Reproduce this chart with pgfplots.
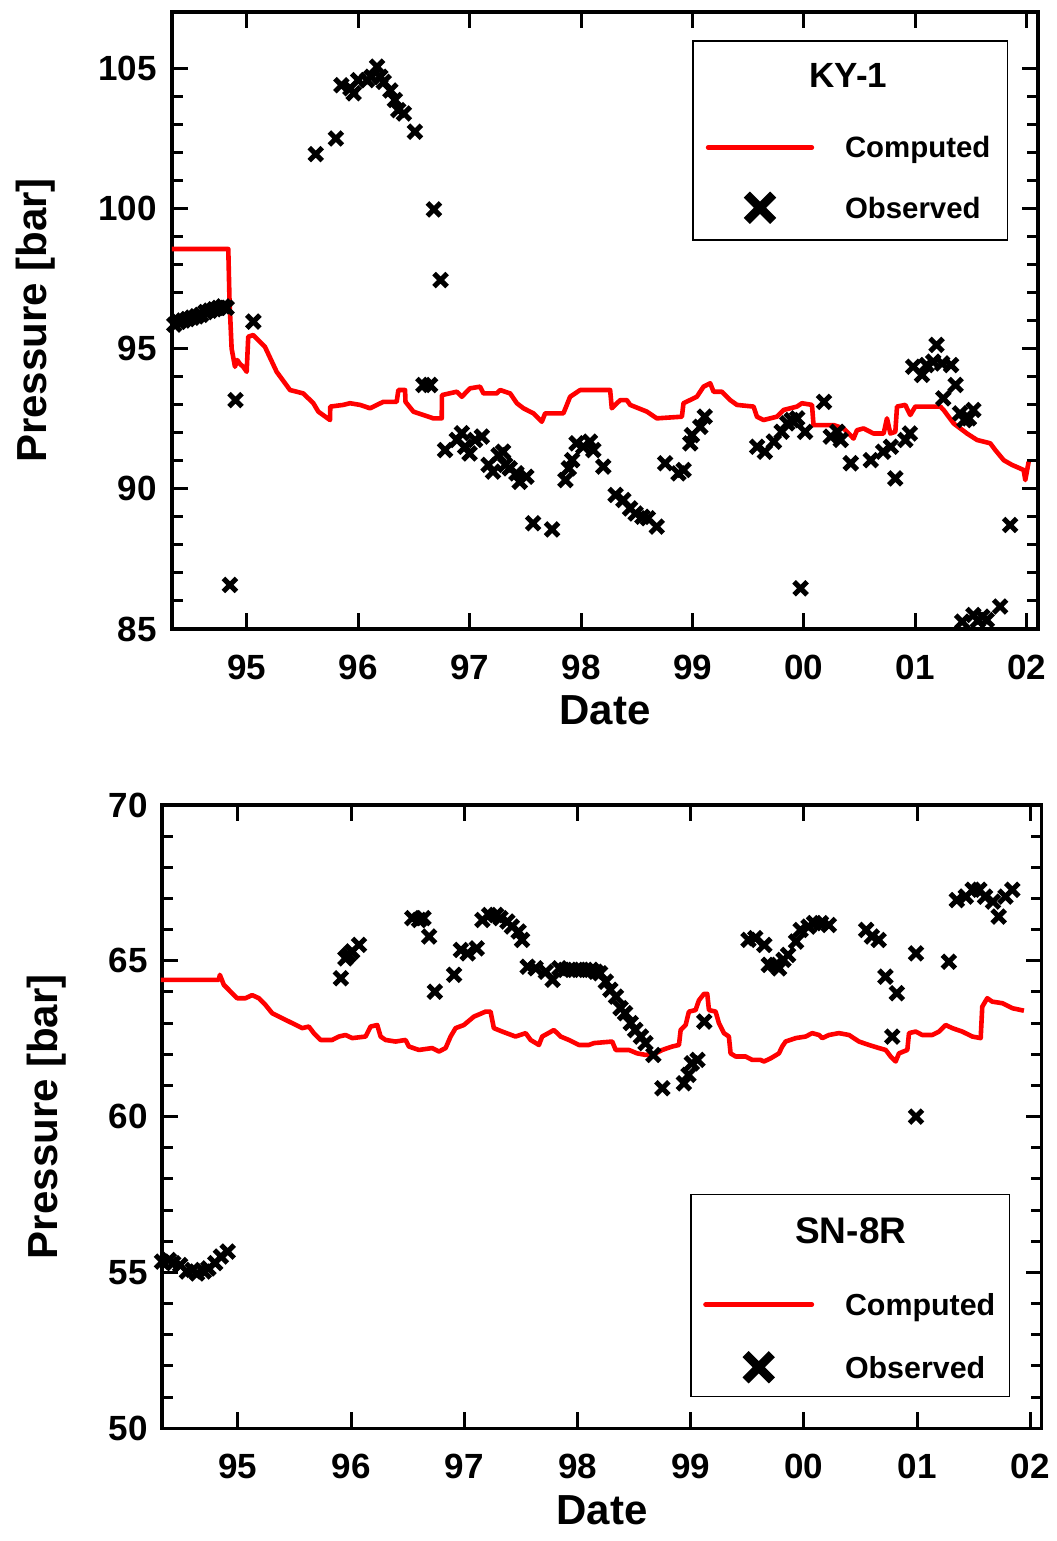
\documentclass[border=0pt]{standalone}
\usepackage{fontspec}
\setmainfont{Liberation Sans}
\usepackage{pgfplots}
\pgfplotsset{compat=1.18}
\pgfplotsset{
  legline/.style={legend image code/.code={\draw[##1] (0pt,0pt) -- (#1,0pt);}},
  legmark/.style={legend image code/.code={\draw[##1] plot coordinates {(#1,0pt)};}},
  myaxis/.style={
    scale only axis, anchor=south west, clip=false,
    xmin=94.33, xmax=102.10,
    xtick={95,96,97,98,99,100,101,102},
    xticklabels={95,96,97,98,99,00,01,02},
    minor y tick num=4,
    tick align=inside,
    major tick length=8pt, minor tick length=5.5pt,
    every tick/.style={black, line width=1.5pt},
    axis line style={line width=1.7pt},
    /pgf/number format/assume math mode=true,
    ticklabel style={font=\fontsize{17.5}{20}\selectfont\bfseries, inner sep=0pt},
    yticklabel style={anchor=east},
    label style={font=\fontsize{21}{24}\selectfont\bfseries},
    xlabel={Date}, ylabel={Pressure [bar]},
    legend cell align=left,
    comp/.style={red, line width=2.3pt, line join=round},
    obs/.style={black, only marks, mark=x, mark size=4.6pt, mark options={line width=2.5pt}},
  }
}
\begin{document}
\begin{tikzpicture}
\path[use as bounding box] (0pt,0pt) rectangle (528pt,770.5pt);
% ---------------- top panel: KY-1
\begin{axis}[myaxis,
  at={(86pt,456pt)}, width=433pt, height=308.5pt,
  ymin=85, ymax=107, ytick={85,90,95,100,105},
  xticklabel style={anchor=base, yshift=-25.5pt},
  yticklabel style={xshift=-7.5pt},
  xlabel style={at={(axis description cs:0.5,-0.131)}, anchor=center},
  ylabel style={at={(axis description cs:-0.158,0.5)}, anchor=center},
  legend style={at={(axis description cs:0.6164,0.7974)}, anchor=north west,
    draw=none, fill=none, inner sep=0pt, outer sep=0pt,
    row sep=18.3pt, column sep=15.4pt,
    font=\fontsize{14.7}{17}\selectfont\bfseries,
    nodes={inner sep=0pt, text depth=0pt, text height=10.5pt}},
]
\addplot[comp, forget plot] coordinates {
(94.329,98.55) (94.835,98.55) (94.846,96.7) (94.865,95.0) (94.895,94.35) (94.916,94.59)
(94.94,94.45) (94.969,94.35) (95.000,94.17) (95.014,95.42) (95.059,95.48) (95.164,95.06)
(95.269,94.17) (95.389,93.52) (95.508,93.40) (95.598,93.05) (95.643,92.75) (95.748,92.45)
(95.750,92.93) (95.867,92.99) (95.927,93.05) (96.017,92.99) (96.107,92.87) (96.226,93.10)
(96.346,93.10) (96.361,93.52) (96.421,93.52) (96.425,93.10) (96.496,92.75) (96.585,92.63)
(96.675,92.51) (96.750,92.51) (96.752,93.34) (96.885,93.46) (96.930,93.28) (97.004,93.58)
(97.094,93.64) (97.124,93.40) (97.244,93.40) (97.274,93.52) (97.364,93.40) (97.424,93.05)
(97.483,92.87) (97.573,92.69) (97.648,92.39) (97.678,92.69) (97.842,92.69) (97.902,93.28)
(97.992,93.52) (98.082,93.52) (98.261,93.52) (98.276,92.87) (98.351,93.16) (98.411,93.16)
(98.441,92.99) (98.591,92.75) (98.680,92.51) (98.905,92.57) (98.919,93.05) (99.039,93.28)
(99.099,93.64) (99.159,93.76) (99.189,93.46) (99.264,93.46) (99.339,93.16) (99.399,92.99)
(99.548,92.93) (99.578,92.57) (99.637,92.45) (99.758,92.57) (99.817,92.81) (99.937,92.93)
(99.982,93.05) (100.072,92.99) (100.086,92.27) (100.266,92.27) (100.356,92.15) (100.445,91.79)
(100.476,92.09) (100.535,92.15) (100.625,91.97) (100.715,91.97) (100.745,92.51) (100.775,91.97)
(100.820,92.03) (100.835,92.93) (100.909,92.99) (100.954,92.63) (100.999,92.93) (101.224,92.93)
(101.253,92.81) (101.343,92.33) (101.463,91.97) (101.553,91.74) (101.672,91.62) (101.717,91.38)
(101.792,91.02) (101.867,90.85) (101.971,90.67) (101.986,90.31) (102.016,90.96)
};
\addplot[obs, forget plot] coordinates {
(94.35,95.85) (94.39,95.95) (94.43,96.0) (94.47,96.05) (94.51,96.1) (94.55,96.15) (94.59,96.2)
(94.63,96.3) (94.67,96.35) (94.71,96.4) (94.75,96.45) (94.79,96.5) (94.82,96.45)
(94.85,86.57) (94.90,93.16) (95.06,95.96)
(95.62,101.93) (95.80,102.49)
(95.85,104.39) (95.93,104.28) (95.96,104.1) (96.00,104.57) (96.08,104.57) (96.12,104.69)
(96.17,105.05) (96.20,104.69) (96.23,104.51) (96.29,104.2) (96.33,103.86) (96.36,103.5)
(96.41,103.38) (96.51,102.73)
(96.68,99.96) (96.74,97.44)
(96.585,93.7) (96.645,93.7)
(96.78,91.38) (96.885,91.74) (96.93,91.98) (96.96,91.5) (97.0,91.26) (97.05,91.74) (97.11,91.86)
(97.17,90.85) (97.21,90.61) (97.26,91.2) (97.30,91.32) (97.32,90.85) (97.36,90.73) (97.42,90.55)
(97.45,90.25) (97.51,90.43) (97.57,88.77) (97.74,88.55)
(97.86,90.31) (97.89,90.73) (97.92,91.02) (97.96,91.62) (98.02,91.50) (98.08,91.68) (98.11,91.38)
(98.20,90.79) (98.31,89.78) (98.38,89.6) (98.44,89.3) (98.49,89.12) (98.55,89.0) (98.60,88.95)
(98.68,88.65)
(98.755,90.91) (98.874,90.55) (98.92,90.67) (98.98,91.62) (98.995,91.91) (99.07,92.21) (99.11,92.57)
(99.58,91.5) (99.65,91.32) (99.73,91.68) (99.80,92.03) (99.85,92.33) (99.89,92.45) (99.94,92.51)
(100.01,92.03) (99.97,86.45) (100.18,93.1)
(100.24,91.86) (100.30,92.03) (100.33,91.74) (100.42,90.91)
(100.60,91.02) (100.71,91.32) (100.78,91.5) (100.82,90.37) (100.91,91.74) (100.95,91.97)
(100.98,94.35) (101.06,94.06) (101.10,94.41) (101.16,94.53) (101.19,95.13) (101.24,94.47)
(101.32,94.41) (101.36,93.7) (101.25,93.22) (101.40,92.69) (101.48,92.51) (101.52,92.81) (101.44,92.45)
(101.85,88.71)
(101.42,85.26) (101.52,85.5) (101.56,85.3) (101.60,85.44) (101.64,85.32) (101.76,85.8)
};
\addlegendimage{red, line width=2.5pt, line cap=round, legline=51.7pt}
\addlegendentry{Computed}
\addlegendimage{black, only marks, mark=x, mark size=9.3pt, mark options={line width=4.3pt}, legmark=25.85pt}
\addlegendentry{Observed}
\draw[line width=0.8pt] (axis description cs:0.6013,0.6305) rectangle (axis description cs:0.9650,0.9530);
\node[font=\fontsize{17.5}{20}\selectfont\bfseries, inner sep=0pt] at (axis description cs:0.7810,0.8966) {KY-1};
\end{axis}
% ---------------- bottom panel: SN-8R
\begin{axis}[myaxis,
  at={(81pt,56.35pt)}, width=439.85pt, height=311.65pt,
  ymin=50, ymax=70, ytick={50,55,60,65,70},
  xticklabel style={anchor=base, yshift=-25pt},
  yticklabel style={xshift=-7pt},
  xlabel style={at={(axis description cs:0.5,-0.131)}, anchor=center},
  ylabel style={at={(axis description cs:-0.131,0.5)}, anchor=center},
  legend style={at={(axis description cs:0.6152,0.2159)}, anchor=north west,
    draw=none, fill=none, inner sep=0pt, outer sep=0pt,
    row sep=19.3pt, column sep=15.4pt,
    font=\fontsize{15.2}{17}\selectfont\bfseries,
    nodes={inner sep=0pt, text depth=0pt, text height=10.9pt}},
]
\addplot[comp, forget plot] coordinates {
(94.320,64.39) (94.832,64.39) (94.841,64.55) (94.876,64.23) (94.920,64.07) (94.994,63.80)
(95.068,63.80) (95.126,63.90) (95.186,63.80) (95.245,63.58) (95.303,63.32) (95.391,63.16)
(95.480,63.00) (95.568,62.84) (95.627,62.89) (95.671,62.68) (95.731,62.46) (95.833,62.46)
(95.892,62.57) (95.951,62.62) (96.010,62.52) (96.128,62.57) (96.172,62.89) (96.231,62.94)
(96.261,62.57) (96.305,62.46) (96.393,62.41) (96.481,62.46) (96.511,62.25) (96.599,62.14)
(96.716,62.20) (96.776,62.09) (96.835,62.20) (96.879,62.57) (96.923,62.84) (96.996,62.94)
(97.085,63.21) (97.188,63.37) (97.232,63.37) (97.261,62.84) (97.335,62.73) (97.453,62.57)
(97.542,62.68) (97.586,62.46) (97.659,62.30) (97.688,62.57) (97.792,62.78) (97.851,62.57)
(97.924,62.46) (98.012,62.30) (98.101,62.30) (98.145,62.36) (98.307,62.41) (98.337,62.14)
(98.454,62.14) (98.527,62.03) (98.602,61.98) (98.690,62.03) (98.748,62.14) (98.837,62.25)
(98.896,62.30) (98.911,62.78) (98.955,62.94) (98.984,63.37) (99.043,63.42) (99.072,63.73)
(99.117,63.94) (99.146,63.94) (99.161,63.42) (99.220,63.37) (99.249,63.00) (99.293,62.68)
(99.337,62.57) (99.352,62.03) (99.397,61.93) (99.485,61.93) (99.543,61.82) (99.617,61.82)
(99.647,61.77) (99.706,61.87) (99.779,62.03) (99.808,62.25) (99.838,62.41) (99.927,62.52)
(100.015,62.57) (100.073,62.68) (100.133,62.62) (100.162,62.52) (100.221,62.62) (100.309,62.68)
(100.398,62.62) (100.486,62.41) (100.574,62.30) (100.663,62.20) (100.722,62.14) (100.766,61.93)
(100.810,61.77) (100.839,62.03) (100.913,62.14) (100.928,62.68) (100.987,62.73) (101.045,62.62)
(101.133,62.62) (101.193,62.73) (101.252,62.94) (101.310,62.84) (101.398,62.73) (101.487,62.57)
(101.561,62.52) (101.575,63.53) (101.619,63.80) (101.663,63.69) (101.752,63.64) (101.840,63.48)
(101.943,63.40)
};
\addplot[obs, forget plot] coordinates {
(94.33,55.35) (94.39,55.4) (94.43,55.3) (94.49,55.24) (94.55,55.03) (94.60,55.08) (94.64,54.97)
(94.70,55.03) (94.74,55.13) (94.80,55.3) (94.85,55.51) (94.91,55.67)
(95.91,64.44) (95.95,65.08) (95.98,65.19) (96.01,65.3) (96.07,65.51)
(96.54,66.37) (96.60,66.31) (96.64,66.37) (96.69,65.78) (96.74,64.01) (96.91,64.55) (96.97,65.35)
(97.03,65.24) (97.11,65.4) (97.16,66.31) (97.22,66.47) (97.28,66.47) (97.32,66.37) (97.38,66.26)
(97.42,66.10) (97.48,65.94) (97.51,65.67) (97.56,64.81) (97.63,64.76) (97.72,64.65) (97.78,64.39)
(97.84,64.76) (97.89,64.71) (97.95,64.71) (98.01,64.71) (98.07,64.71) (98.12,64.71) (98.16,64.65)
(98.20,64.6) (98.25,64.33) (98.29,64.07) (98.34,63.85) (98.38,63.48) (98.42,63.32) (98.47,63.0)
(98.51,62.78) (98.56,62.57) (98.60,62.36) (98.67,61.98) (98.75,60.91) (98.94,61.07) (98.98,61.34)
(99.01,61.71) (99.06,61.82) (99.12,63.05)
(99.51,65.67) (99.57,65.73) (99.65,65.51) (99.69,64.87) (99.75,64.87) (99.78,64.76) (99.82,65.03)
(99.86,65.19) (99.93,65.62) (99.97,65.99) (100.04,66.10) (100.09,66.21) (100.15,66.21) (100.22,66.15)
(100.55,65.99) (100.60,65.78) (100.66,65.67) (100.72,64.49) (100.82,63.96) (100.78,62.57)
(100.99,65.24) (100.99,60.0) (101.28,64.97) (101.35,66.95) (101.43,67.06) (101.49,67.28)
(101.55,67.28) (101.60,67.06) (101.67,66.90) (101.72,66.42) (101.78,67.06) (101.84,67.28)
};
\addlegendimage{red, line width=2.5pt, line cap=round, legline=53pt}
\addlegendentry{Computed}
\addlegendimage{black, only marks, mark=x, mark size=9.3pt, mark options={line width=4.3pt}, legmark=26.5pt}
\addlegendentry{Observed}
\draw[line width=0.8pt] (axis description cs:0.6013,0.0507) rectangle (axis description cs:0.9632,0.3754);
\node[font=\fontsize{18.5}{21}\selectfont\bfseries, inner sep=0pt] at (axis description cs:0.7830,0.3169) {SN-8R};
\end{axis}
\end{tikzpicture}
\end{document}
